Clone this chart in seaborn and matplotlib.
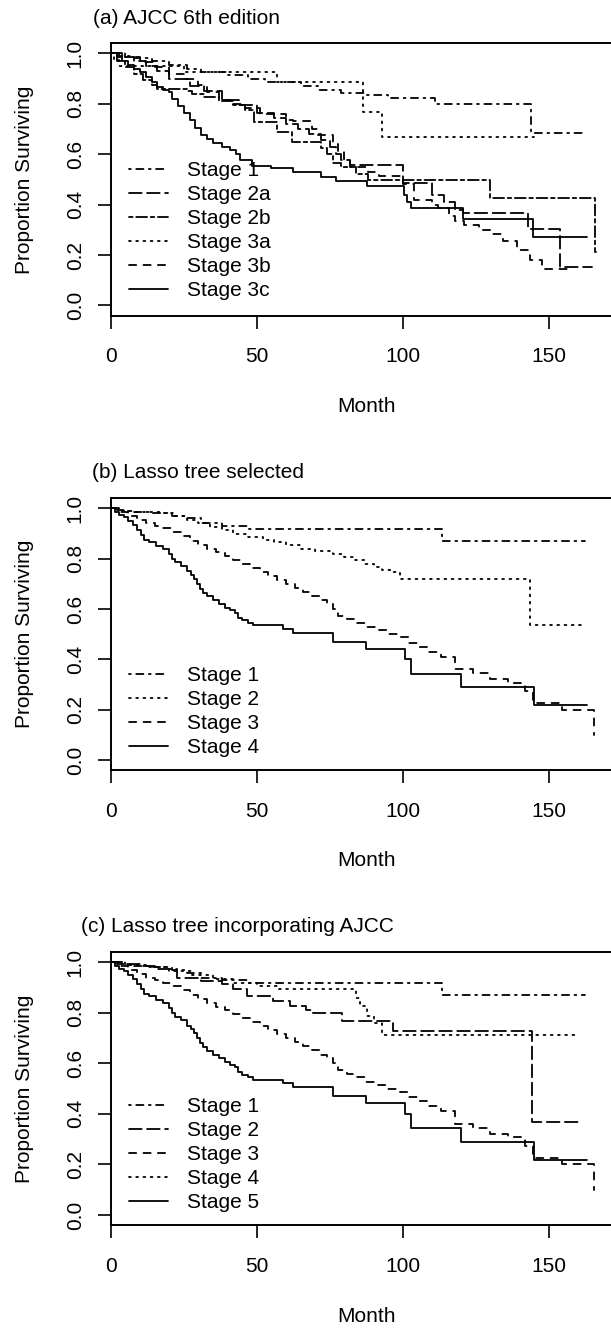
import numpy as np
import pandas as pd
import matplotlib
matplotlib.use("Agg")
import matplotlib.pyplot as plt
from matplotlib.lines import Line2D
import seaborn as sns

sns.set_theme(style="ticks")
plt.rcParams['font.family'] = ['Liberation Sans', 'DejaVu Sans']
plt.rcParams.update({
    'axes.edgecolor': 'black', 'text.color': 'black', 'axes.labelcolor': 'black',
    'xtick.color': 'black', 'ytick.color': 'black',
})

# ---------------- data ----------------
xticks = [0, 50, 100, 150]
yticks = [0.0, 0.2, 0.4, 0.6, 0.8, 1.0]
ytick_labels = ["0.0", "0.2", "0.4", "0.6", "0.8", "1.0"]

# (a) AJCC 6th edition
a_stages = ["Stage 1", "Stage 2a", "Stage 2b", "Stage 3a", "Stage 3b", "Stage 3c"]
a_s1_t = [0, 3, 8, 14, 20, 26, 31, 40, 47, 53, 65, 71, 79, 87, 95, 111, 144, 162.4]
a_s1_s = [1.0, 0.99, 0.98, 0.97, 0.955, 0.94, 0.927, 0.915, 0.90, 0.887, 0.87, 0.854, 0.841, 0.834, 0.821, 0.799, 0.683, 0.683]
a_s2a_t = [0, 4, 8, 12, 16, 20, 27, 32, 38, 44, 50, 56, 60, 64, 68, 72, 75, 77, 79, 82, 100, 110, 114, 118, 120.5, 143, 154, 164.7]
a_s2a_s = [1.0, 0.985, 0.97, 0.95, 0.93, 0.90, 0.87, 0.85, 0.815, 0.795, 0.765, 0.745, 0.72, 0.70, 0.68, 0.655, 0.63, 0.60, 0.575, 0.557, 0.484, 0.44, 0.41, 0.38, 0.365, 0.305, 0.153, 0.153]
a_s2b_t = [0, 2, 5, 8, 11, 14, 16, 26, 28, 32, 37, 42, 46, 49, 57, 62, 72, 74, 76, 79, 84, 88, 130, 166, 166.3]
a_s2b_s = [1.0, 0.97, 0.945, 0.92, 0.895, 0.875, 0.86, 0.85, 0.84, 0.825, 0.81, 0.795, 0.775, 0.727, 0.689, 0.649, 0.625, 0.60, 0.565, 0.55, 0.52, 0.497, 0.425, 0.213, 0.213]
a_s3a_t = [0, 1, 3, 25, 57, 86.5, 92.8, 145]
a_s3a_s = [1.0, 0.975, 0.95, 0.927, 0.887, 0.767, 0.669, 0.669]
a_s3b_t = [0, 5, 10, 15, 20, 25, 30, 33, 37, 41, 46, 51, 60, 62.5, 69, 71, 76, 78, 80, 82, 88, 92, 100, 104, 110, 112, 116, 118, 121, 126, 131, 134.5, 139, 143.6, 147.6, 156.2]
a_s3b_s = [1.0, 0.985, 0.965, 0.945, 0.92, 0.897, 0.874, 0.845, 0.815, 0.80, 0.785, 0.76, 0.735, 0.73, 0.70, 0.676, 0.64, 0.61, 0.575, 0.55, 0.53, 0.513, 0.48, 0.42, 0.40, 0.385, 0.355, 0.335, 0.318, 0.30, 0.283, 0.256, 0.219, 0.18, 0.143, 0.143]
a_s3c_t = [0, 2, 4, 6, 8, 10, 12, 14, 16, 18, 20, 21, 23, 25, 27, 29, 31, 33, 35, 38, 41, 43, 44.3, 48.3, 55, 62.5, 72, 77, 87.7, 100.3, 101.5, 103, 120.7, 144.7, 163]
a_s3c_s = [1.0, 0.985, 0.97, 0.955, 0.94, 0.925, 0.905, 0.885, 0.865, 0.855, 0.845, 0.82, 0.79, 0.765, 0.735, 0.705, 0.675, 0.66, 0.645, 0.63, 0.615, 0.60, 0.577, 0.554, 0.545, 0.528, 0.51, 0.495, 0.473, 0.44, 0.41, 0.385, 0.342, 0.272, 0.272]

# (b) Lasso tree selected
b_stages = ["Stage 1", "Stage 2", "Stage 3", "Stage 4"]
b_s1_t = [0, 2, 5, 8, 14, 21, 26, 31, 38, 46.6, 113.3, 162.4]
b_s1_s = [1.0, 0.995, 0.99, 0.985, 0.98, 0.97, 0.96, 0.94, 0.93, 0.917, 0.869, 0.869]
b_s2_t = [0, 3, 8, 18, 22, 26, 30, 34, 38, 42, 47, 52, 56, 60, 65, 70, 76, 80, 83, 87, 90, 93, 96, 99, 143.6, 161.3]
b_s2_s = [1.0, 0.99, 0.985, 0.98, 0.97, 0.955, 0.94, 0.926, 0.915, 0.90, 0.886, 0.875, 0.865, 0.853, 0.84, 0.83, 0.82, 0.805, 0.793, 0.78, 0.766, 0.755, 0.746, 0.72, 0.538, 0.538]
b_s3_t = [0, 3, 6, 9, 12, 15, 18, 21, 24, 27, 30, 33, 36, 39, 42, 45, 48, 51, 54, 57, 60, 63, 66, 69, 72, 74, 76, 78, 81, 84, 87, 91, 95, 99, 102, 105, 109, 113, 118, 124, 130, 136, 142, 144.7, 154.5, 165.6]
b_s3_s = [1.0, 0.985, 0.97, 0.955, 0.94, 0.93, 0.92, 0.905, 0.89, 0.87, 0.855, 0.84, 0.825, 0.81, 0.795, 0.778, 0.763, 0.747, 0.731, 0.715, 0.70, 0.683, 0.668, 0.652, 0.635, 0.62, 0.60, 0.574, 0.56, 0.545, 0.527, 0.515, 0.50, 0.487, 0.465, 0.45, 0.43, 0.41, 0.36, 0.345, 0.32, 0.307, 0.274, 0.227, 0.20, 0.10]
b_s4_t = [0, 1.5, 3, 4.5, 6, 7.5, 9, 10.5, 11.5, 13, 15.5, 18, 20, 21, 22, 24, 26, 27.5, 28.5, 29.5, 30.5, 31.5, 33, 35, 37, 39, 41, 42.5, 43.5, 45, 47, 48.9, 59.1, 62.5, 76.2, 87.6, 100.8, 103, 120, 145, 163]
b_s4_s = [1.0, 0.985, 0.975, 0.965, 0.95, 0.935, 0.915, 0.895, 0.875, 0.865, 0.85, 0.84, 0.82, 0.80, 0.785, 0.77, 0.75, 0.735, 0.72, 0.70, 0.68, 0.665, 0.65, 0.635, 0.62, 0.605, 0.595, 0.585, 0.565, 0.555, 0.545, 0.535, 0.522, 0.505, 0.469, 0.442, 0.40, 0.343, 0.29, 0.217, 0.217]

# (c) Lasso tree incorporating AJCC
c_stages = ["Stage 1", "Stage 2", "Stage 3", "Stage 4", "Stage 5"]
c_s1_t, c_s1_s = b_s1_t, b_s1_s
c_s2_t = [0, 4, 10, 15, 22.6, 31, 38, 42, 46.6, 55.7, 61.4, 67, 69.4, 79.1, 96.8, 144.2, 161]
c_s2_s = [1.0, 0.995, 0.985, 0.975, 0.94, 0.925, 0.914, 0.894, 0.867, 0.847, 0.827, 0.81, 0.80, 0.767, 0.727, 0.369, 0.369]
c_s3_t, c_s3_s = b_s3_t, b_s3_s
c_s4_t = [0, 5, 12, 20, 28, 35, 42, 50, 57, 84, 85.5, 87.7, 90, 92.8, 159.6]
c_s4_s = [1.0, 0.99, 0.98, 0.965, 0.95, 0.935, 0.92, 0.905, 0.894, 0.86, 0.827, 0.787, 0.76, 0.714, 0.714]
c_s5_t, c_s5_s = b_s4_t, b_s4_s

# ---------------- styling ----------------
R_LTY = {"solid": "", "dashed": (4, 4), "dotted": (1, 3), "dotdash": (1, 3, 4, 3),
         "longdash": (7, 3), "twodash": (2, 2, 6, 2)}
LW = 1.3
FS = 15
W, H = 611, 1328

panels = [
    dict(title="(a) AJCC 6th edition", tx=93, ty=18, top=43.3, bot=315.5,
         stages=a_stages,
         series=[(a_s1_t, a_s1_s), (a_s2a_t, a_s2a_s), (a_s2b_t, a_s2b_s),
                 (a_s3a_t, a_s3a_s), (a_s3b_t, a_s3b_s), (a_s3c_t, a_s3c_s)],
         lty=["dotdash", "longdash", "twodash", "dotted", "dashed", "solid"],
         leg_bottom=300.5),
    dict(title="(b) Lasso tree selected", tx=92, ty=472, top=498.3, bot=770,
         stages=b_stages,
         series=[(b_s1_t, b_s1_s), (b_s2_t, b_s2_s), (b_s3_t, b_s3_s), (b_s4_t, b_s4_s)],
         lty=["dotdash", "dotted", "dashed", "solid"],
         leg_bottom=757),
    dict(title="(c) Lasso tree incorporating AJCC", tx=81, ty=927, top=952.3, bot=1225,
         stages=c_stages,
         series=[(c_s1_t, c_s1_s), (c_s2_t, c_s2_s), (c_s3_t, c_s3_s),
                 (c_s4_t, c_s4_s), (c_s5_t, c_s5_s)],
         lty=["dotdash", "longdash", "dashed", "dotted", "solid"],
         leg_bottom=1212),
]

fig = plt.figure(figsize=(W / 100, H / 100), dpi=100)

AX_LEFT = 110.7
PX_PER_MONTH = 2.92
XMAX = 175
ax_w = XMAX * PX_PER_MONTH

for p in panels:
    hpx = p["bot"] - p["top"]
    ax = fig.add_axes([AX_LEFT / W, 1 - p["bot"] / H, ax_w / W, hpx / H])
    frames = []
    for st, (t, s) in zip(p["stages"], p["series"]):
        frames.append(pd.DataFrame({"month": t, "surv": s, "stage": st}))
    df = pd.concat(frames, ignore_index=True)
    dashes = {st: R_LTY[l] for st, l in zip(p["stages"], p["lty"])}
    sns.lineplot(data=df, x="month", y="surv", style="stage", style_order=p["stages"],
                 dashes=dashes, color="black", drawstyle="steps-post",
                 estimator=None, sort=False, legend=False, linewidth=LW,
                 dash_capstyle="round", ax=ax)
    ax.set_xlim(0, XMAX)
    ax.set_ylim(-0.04, 1.04)
    ax.set_xticks(xticks)
    ax.set_xticklabels([str(v) for v in xticks])
    ax.set_yticks(yticks)
    ax.set_yticklabels(ytick_labels)
    ax.tick_params(axis="both", direction="out", length=9.7, width=1.2, labelsize=FS)
    ax.tick_params(axis="x", pad=13.3)
    ax.tick_params(axis="y", pad=8.9, labelrotation=90)
    for lab in ax.get_yticklabels():
        lab.set_va("center")
    for sp in ax.spines.values():
        sp.set_visible(True)
        sp.set_linewidth(1.4)
        sp.set_color("black")
    ax.set_xlabel("Month", fontsize=FS)
    ax.set_ylabel("Proportion Surviving", fontsize=FS)
    ax.xaxis.set_label_coords(0.5, -81.5 / hpx)
    ax.yaxis.set_label_coords((34 - AX_LEFT) / ax_w, 0.5)

    handles = [Line2D([], [], color="black", linewidth=LW,
                      dashes=R_LTY[l] if R_LTY[l] else (None, None),
                      dash_capstyle="round") for l in p["lty"]]
    leg_y = (p["bot"] - p["leg_bottom"]) / hpx
    ax.legend(handles, p["stages"], loc="lower left",
              bbox_to_anchor=((129 - AX_LEFT) / ax_w, leg_y),
              frameon=False, borderpad=0, borderaxespad=0,
              handlelength=1.875, handletextpad=0.9, labelspacing=0.24, fontsize=FS)

    fig.text(p["tx"] / W, 1 - p["ty"] / H, p["title"], ha="left", va="center", fontsize=FS)

fig.savefig("out.png", dpi=100)
